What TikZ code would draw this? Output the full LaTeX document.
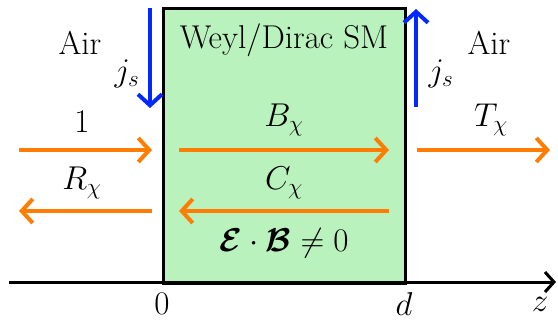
\RequirePackage{fix-cm}
\documentclass[tikz,border=0pt]{standalone}
\usepackage{amsmath}
\usepackage{bm}
\usetikzlibrary{arrows.meta}
\definecolor{boxgreen}{RGB}{186,242,190}
\definecolor{flowor}{RGB}{255,125,0}
\definecolor{jblue}{RGB}{0,40,255}
\begin{document}
\begin{tikzpicture}[x=1pt,y=-1pt,
  lab/.style={font=\fontsize{33}{38}\selectfont, inner sep=0pt},
  flow/.style={draw=flowor, line width=4pt, -{Straight Barb[length=11pt,width=24pt,line width=4pt]}},
  jflow/.style={draw=jblue, line width=4pt, -{Straight Barb[length=11pt,width=24pt,line width=4pt]}},
  axisline/.style={draw=black, line width=3pt, -{Straight Barb[length=9pt,width=20pt,line width=3pt]}}]
\useasboundingbox (0,0) rectangle (558,322);
% box
\node[draw=black, line width=3pt, fill=boxgreen, minimum width=242pt, minimum height=275pt, inner sep=0pt, anchor=north west] (box) at (162,7) {};
% axis
\coordinate (ax0) at (9,282);
\coordinate (ax1) at (556,282);
\draw[axisline] (ax0) -- (ax1);
\node[lab] (zero) at (162,304) {$0$};
\node[lab] (dlab) at (404,304) {$d$};
\node[lab] (zlab) at (540,304) {$z$};
% texts
\node[lab] (airl) at (80,43) {Air};
\node[lab] (airr) at (489,43) {Air};
\node[lab] (title) at (284,40) {Weyl/Dirac SM};
\node[lab] (jsl) at (127,74) {$j_s$};
\node[lab] (jsr) at (441,74) {$j_s$};
\node[lab] (one) at (82,122) {$1$};
\node[lab] (Blab) at (284,120) {$B_\chi$};
\node[lab] (Tlab) at (491,120) {$T_\chi$};
\node[lab] (Rlab) at (82,183) {$R_\chi$};
\node[lab] (Clab) at (284,183) {$C_\chi$};
\node[lab] (eb) at (284,243) {$\bm{\mathcal{E}}\cdot\bm{\mathcal{B}}\neq 0$};
% blue arrows
\coordinate (jl0) at (150,8);
\coordinate (jl1) at (150,108);
\coordinate (jr0) at (416,107);
\coordinate (jr1) at (416,9);
\draw[jflow] (jl0) -- (jl1);
\draw[jflow] (jr0) -- (jr1);
% orange arrows
\coordinate (a0) at (19,150);
\coordinate (a1) at (152,150);
\coordinate (b0) at (179,150);
\coordinate (b1) at (389,150);
\coordinate (t0) at (417,150);
\coordinate (t1) at (550,150);
\coordinate (r0) at (152,211);
\coordinate (r1) at (19,211);
\coordinate (c0) at (389,211);
\coordinate (c1) at (179,211);
\draw[flow] (a0) -- (a1);
\draw[flow] (b0) -- (b1);
\draw[flow] (t0) -- (t1);
\draw[flow] (r0) -- (r1);
\draw[flow] (c0) -- (c1);
\end{tikzpicture}
\end{document}
